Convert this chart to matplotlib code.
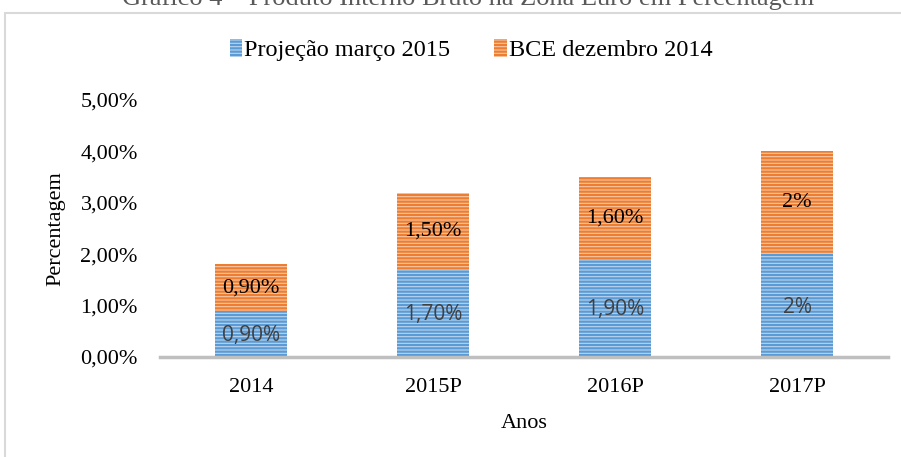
import matplotlib.pyplot as plt
from matplotlib.patches import Rectangle

# Datos del gráfico
anos = ['2014', '2015P', '2016P', '2017P']
projecao_marco_2015 = [0.90, 1.70, 1.90, 2.00]
bce_dezembro_2014 = [0.90, 1.50, 1.60, 2.00]
rotulos_projecao = ['0,90%', '1,70%', '1,90%', '2%']
rotulos_bce = ['0,90%', '1,50%', '1,60%', '2%']
ticks_y = [0, 1, 2, 3, 4, 5]
rotulos_y = ['0,00%', '1,00%', '2,00%', '3,00%', '4,00%', '5,00%']

serif = ['Liberation Serif', 'DejaVu Serif']
plt.rcParams['hatch.linewidth'] = 1.6

fig = plt.figure(figsize=(9.01, 4.57), dpi=100)
ax = fig.add_axes([160 / 901, 1 - 357 / 457, 728 / 901, 257 / 457])

x = range(len(anos))
ax.bar(x, projecao_marco_2015, width=0.4, color='#bcd5f0',
       edgecolor='#5b9bd5', linewidth=0, hatch='-----',
       label='Projeção março 2015')
ax.bar(x, bce_dezembro_2014, width=0.4, bottom=projecao_marco_2015,
       color='#f8c8a4', edgecolor='#ed7d31', linewidth=0, hatch='-----',
       label='BCE dezembro 2014')

# Rótulos de dados
for i in x:
    ax.text(i, projecao_marco_2015[i] / 2 - 0.03, rotulos_projecao[i], ha='center', va='center',
            fontsize=15, color='#404040', family=['Open Sans', 'DejaVu Sans'])
    ax.text(i, projecao_marco_2015[i] + bce_dezembro_2014[i] / 2, rotulos_bce[i], ha='center',
            va='center', fontsize=16, color='black', family=serif)

ax.set_xlim(-0.5, 3.5)
ax.set_ylim(0, 5)
ax.set_xticks(list(x))
ax.set_xticklabels(anos, family=serif, fontsize=16)
ax.set_yticks(ticks_y)
ax.set_yticklabels(rotulos_y, family=serif, fontsize=16)
ax.tick_params(length=0)
ax.tick_params(axis='x', pad=15)
ax.tick_params(axis='y', pad=16)
for lado in ['top', 'right', 'left']:
    ax.spines[lado].set_visible(False)
ax.spines['bottom'].set_color('#bfbfbf')
ax.spines['bottom'].set_linewidth(2.5)

ax.set_xlabel('Anos', family=serif, fontsize=16, labelpad=12)
ax.set_ylabel('Percentagem', family=serif, fontsize=16, labelpad=11)

ax.legend(loc='center', bbox_to_anchor=(0.523, 1 - 50 / 457), bbox_transform=fig.transFigure,
          ncol=2, frameon=False, prop={'family': serif, 'size': 17.5},
          handlelength=0.5, handleheight=0.8, handletextpad=0.1, columnspacing=1.8)

# Moldura e título cortado
fig.patches.append(Rectangle((5 / 901, -0.1), 1.2, 1 - 13 / 457 + 0.1, transform=fig.transFigure,
                             fill=False, edgecolor='#d9d9d9', linewidth=1.5, zorder=0))
fig.text(0.52, 1 - 5 / 457, 'Gráfico 4 – Produto Interno Bruto na Zona Euro em Percentagem',
         ha='center', va='baseline', fontsize=19, color='#595959', family=serif)

fig.savefig('out.png', dpi=100)
